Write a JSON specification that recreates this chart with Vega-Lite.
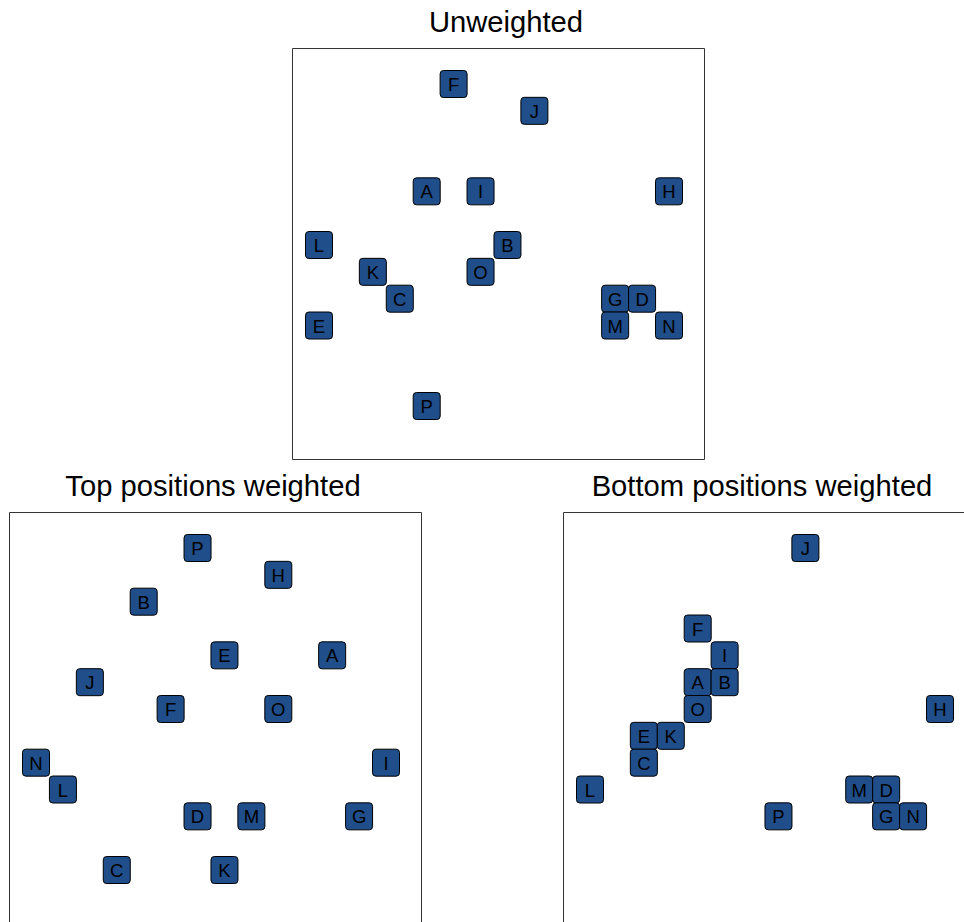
{
  "$schema": "https://vega.github.io/schema/vega-lite/v6.json",
  "background": "white",
  "padding": {"left": 8, "top": 8, "right": 0, "bottom": 0},
  "config": {
    "view": {"stroke": "#333333", "strokeWidth": 1},
    "title": {"font": "Liberation Sans", "fontSize": 29.2, "fontWeight": "normal", "color": "black", "offset": 10, "baseline": "alphabetic", "anchor": "middle"}
  },
  "data": {"values": [
    {"panel": "U", "label": "F", "col": 5, "row": 0},
    {"panel": "U", "label": "J", "col": 8, "row": 1},
    {"panel": "U", "label": "A", "col": 4, "row": 4},
    {"panel": "U", "label": "I", "col": 6, "row": 4},
    {"panel": "U", "label": "H", "col": 13, "row": 4},
    {"panel": "U", "label": "L", "col": 0, "row": 6},
    {"panel": "U", "label": "B", "col": 7, "row": 6},
    {"panel": "U", "label": "K", "col": 2, "row": 7},
    {"panel": "U", "label": "O", "col": 6, "row": 7},
    {"panel": "U", "label": "C", "col": 3, "row": 8},
    {"panel": "U", "label": "G", "col": 11, "row": 8},
    {"panel": "U", "label": "D", "col": 12, "row": 8},
    {"panel": "U", "label": "E", "col": 0, "row": 9},
    {"panel": "U", "label": "M", "col": 11, "row": 9},
    {"panel": "U", "label": "N", "col": 13, "row": 9},
    {"panel": "U", "label": "P", "col": 4, "row": 12},
    {"panel": "T", "label": "P", "col": 6, "row": 0},
    {"panel": "T", "label": "H", "col": 9, "row": 1},
    {"panel": "T", "label": "B", "col": 4, "row": 2},
    {"panel": "T", "label": "E", "col": 7, "row": 4},
    {"panel": "T", "label": "A", "col": 11, "row": 4},
    {"panel": "T", "label": "J", "col": 2, "row": 5},
    {"panel": "T", "label": "F", "col": 5, "row": 6},
    {"panel": "T", "label": "O", "col": 9, "row": 6},
    {"panel": "T", "label": "N", "col": 0, "row": 8},
    {"panel": "T", "label": "I", "col": 13, "row": 8},
    {"panel": "T", "label": "L", "col": 1, "row": 9},
    {"panel": "T", "label": "D", "col": 6, "row": 10},
    {"panel": "T", "label": "M", "col": 8, "row": 10},
    {"panel": "T", "label": "G", "col": 12, "row": 10},
    {"panel": "T", "label": "C", "col": 3, "row": 12},
    {"panel": "T", "label": "K", "col": 7, "row": 12},
    {"panel": "B", "label": "J", "col": 8, "row": 0},
    {"panel": "B", "label": "F", "col": 4, "row": 3},
    {"panel": "B", "label": "I", "col": 5, "row": 4},
    {"panel": "B", "label": "A", "col": 4, "row": 5},
    {"panel": "B", "label": "B", "col": 5, "row": 5},
    {"panel": "B", "label": "O", "col": 4, "row": 6},
    {"panel": "B", "label": "H", "col": 13, "row": 6},
    {"panel": "B", "label": "E", "col": 2, "row": 7},
    {"panel": "B", "label": "K", "col": 3, "row": 7},
    {"panel": "B", "label": "C", "col": 2, "row": 8},
    {"panel": "B", "label": "L", "col": 0, "row": 9},
    {"panel": "B", "label": "M", "col": 10, "row": 9},
    {"panel": "B", "label": "D", "col": 11, "row": 9},
    {"panel": "B", "label": "P", "col": 7, "row": 10},
    {"panel": "B", "label": "G", "col": 11, "row": 10},
    {"panel": "B", "label": "N", "col": 12, "row": 10}
  ]},
  "spacing": 12,
  "vconcat": [
    {
      "spacing": 0,
      "hconcat": [
        {
          "width": 282, "height": 1,
          "view": {"stroke": null},
          "data": {"values": [{}]},
          "mark": {"type": "text", "text": ""},
          "encoding": {}
        },
        {
          "title": {"text": "Unweighted", "dx": 8},
          "width": 412, "height": 411,
          "transform": [{"filter": "datum.panel === 'U'"}],
          "encoding": {
            "x": {"field": "col", "type": "quantitative", "axis": null, "scale": {"domain": [-1.003, 14.3], "nice": false, "zero": false}},
            "y": {"field": "row", "type": "quantitative", "axis": null, "scale": {"domain": [-1.342, 13.975], "reverse": true, "nice": false, "zero": false}}
          },
          "layer": [
            {"mark": {"type": "point", "shape": "M-0.75,-1H0.75Q1,-1 1,-0.75V0.75Q1,1 0.75,1H-0.75Q-1,1 -1,0.75V-0.75Q-1,-1 -0.75,-1Z", "size": 729, "filled": true, "color": "#1f4e8b", "stroke": "black", "strokeWidth": 1, "opacity": 1}},
            {"mark": {"type": "text", "font": "Liberation Sans", "fontSize": 18.5, "color": "black", "baseline": "middle", "align": "center", "dy": 1}, "encoding": {"text": {"field": "label"}}}
          ]
        }
      ]
    },
    {
      "spacing": 140,
      "hconcat": [
        {
          "title": {"text": "Top positions weighted", "dx": -2},
          "width": 412, "height": 411,
          "transform": [{"filter": "datum.panel === 'T'"}],
          "encoding": {
            "x": {"field": "col", "type": "quantitative", "axis": null, "scale": {"domain": [-1.003, 14.3], "nice": false, "zero": false}},
            "y": {"field": "row", "type": "quantitative", "axis": null, "scale": {"domain": [-1.342, 13.975], "reverse": true, "nice": false, "zero": false}}
          },
          "layer": [
            {"mark": {"type": "point", "shape": "M-0.75,-1H0.75Q1,-1 1,-0.75V0.75Q1,1 0.75,1H-0.75Q-1,1 -1,0.75V-0.75Q-1,-1 -0.75,-1Z", "size": 729, "filled": true, "color": "#1f4e8b", "stroke": "black", "strokeWidth": 1, "opacity": 1}},
            {"mark": {"type": "text", "font": "Liberation Sans", "fontSize": 18.5, "color": "black", "baseline": "middle", "align": "center", "dy": 1}, "encoding": {"text": {"field": "label"}}}
          ]
        },
        {
          "title": {"text": "Bottom positions weighted", "dx": -7},
          "width": 412, "height": 411,
          "transform": [{"filter": "datum.panel === 'B'"}],
          "encoding": {
            "x": {"field": "col", "type": "quantitative", "axis": null, "scale": {"domain": [-1.003, 14.3], "nice": false, "zero": false}},
            "y": {"field": "row", "type": "quantitative", "axis": null, "scale": {"domain": [-1.342, 13.975], "reverse": true, "nice": false, "zero": false}}
          },
          "layer": [
            {"mark": {"type": "point", "shape": "M-0.75,-1H0.75Q1,-1 1,-0.75V0.75Q1,1 0.75,1H-0.75Q-1,1 -1,0.75V-0.75Q-1,-1 -0.75,-1Z", "size": 729, "filled": true, "color": "#1f4e8b", "stroke": "black", "strokeWidth": 1, "opacity": 1}},
            {"mark": {"type": "text", "font": "Liberation Sans", "fontSize": 18.5, "color": "black", "baseline": "middle", "align": "center", "dy": 1}, "encoding": {"text": {"field": "label"}}}
          ]
        }
      ]
    }
  ]
}
